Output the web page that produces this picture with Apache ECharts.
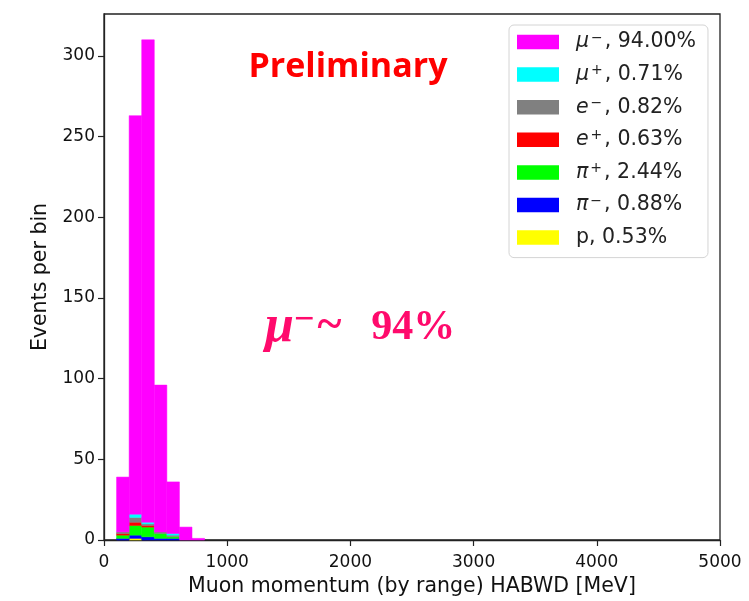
<!DOCTYPE html>
<html>
<head>
<meta charset="utf-8">
<script src="https://cdn.jsdelivr.net/npm/echarts@6/dist/echarts.min.js"></script>
<style>
  html, body { margin: 0; padding: 0; background: #fff; }
  #chart { width: 749px; height: 601px; }
</style>
</head>
<body>
<div id="chart"></div>
<script>
// Histogram binning: equal bins over the momentum range
const X_MIN = 0;
const X_MAX = 5000;
const N_BINS = 49;
const Y_MAX = 326;

// Populated bins (index into the 49 equal-width bins)
const binIndex = [1, 2, 3, 4, 5, 6, 7];

// Events per bin for each species
const countsP       = [0, 1, 0, 0, 0, 0, 0];
const countsPiMinus = [1, 2, 2, 1, 1, 0, 0];
const countsPiPlus  = [2, 6, 6, 3, 1, 0, 0];
const countsEPlus   = [1, 2, 1, 0, 0, 0, 0];
const countsEMinus  = [1, 3, 1, 1, 1, 0, 0];
const countsMuPlus  = [0, 2, 1, 0, 1, 0, 0];
const countsMuMinus = [34, 247, 299, 91, 32, 8, 1];

// Stack order, bottom first
const speciesKeys   = ['p', 'pi-', 'pi+', 'e+', 'e-', 'mu+', 'mu-'];
const speciesCounts = [countsP, countsPiMinus, countsPiPlus, countsEPlus, countsEMinus, countsMuPlus, countsMuMinus];
const speciesColors = ['#ffff00', '#0000ff', '#00ff00', '#ff0000', '#808080', '#00ffff', '#ff00ff'];
const speciesSymbol = ['p', 'π', 'π', 'e', 'e', 'μ', 'μ'];
const speciesCharge = ['', '−', '+', '+', '−', '+', '−'];
const speciesShare  = ['0.53%', '0.88%', '2.44%', '0.63%', '0.82%', '0.71%', '94.00%'];

// Legend lists the top of the stack first
const legendOrder = ['mu-', 'mu+', 'e-', 'e+', 'pi+', 'pi-', 'p'];

const xTicks = [0, 1000, 2000, 3000, 4000, 5000];
const yTicks = [0, 50, 100, 150, 200, 250, 300];

const binWidth = (X_MAX - X_MIN) / N_BINS;
const baseFont = 'DejaVu Sans';

// Build stacked rectangles: [x0, x1, yBottom, yTop]
const cumulative = binIndex.map(() => 0);
const series = speciesKeys.map((key, s) => {
  const data = binIndex.map((b, i) => {
    const y0 = cumulative[i];
    const y1 = y0 + speciesCounts[s][i];
    cumulative[i] = y1;
    return [X_MIN + b * binWidth, X_MIN + (b + 1) * binWidth, y0, y1];
  });
  return {
    name: key,
    type: 'custom',
    itemStyle: { color: speciesColors[s] },
    encode: { x: [0, 1], y: [2, 3] },
    data: data,
    renderItem: function (params, api) {
      if (api.value(3) <= api.value(2)) return null;
      const lo = api.coord([api.value(0), api.value(2)]);
      const hi = api.coord([api.value(1), api.value(3)]);
      const color = api.visual('color');
      return {
        type: 'rect',
        shape: { x: lo[0], y: hi[1], width: hi[0] - lo[0], height: lo[1] - hi[1] },
        style: { fill: color, stroke: color, lineWidth: 0.5 }
      };
    }
  };
});

function legendLabel(name) {
  const s = speciesKeys.indexOf(name);
  if (!speciesCharge[s]) return '{t|' + speciesSymbol[s] + ', ' + speciesShare[s] + '}';
  return '{m|' + speciesSymbol[s] + '}{s|' + speciesCharge[s] + '}{t|, ' + speciesShare[s] + '}';
}

const chart = echarts.init(document.getElementById('chart'), null, { renderer: 'canvas' });

const accent = '#ff0a6c';

chart.setOption({
  animation: false,
  backgroundColor: '#ffffff',
  grid: {
    left: 104, right: 29, top: 14, bottom: 61,
    outerBoundsMode: 'none', containLabel: false,
    show: true, borderColor: '#222', borderWidth: 1.3, backgroundColor: 'transparent'
  },
  xAxis: {
    type: 'value',
    min: X_MIN, max: X_MAX, interval: 1000,
    name: 'Muon momentum (by range) HABWD [MeV]',
    nameLocation: 'middle', nameGap: 28,
    nameTextStyle: { fontFamily: baseFont, fontSize: 20.5, color: '#111' },
    axisLine: { show: true, onZero: false, lineStyle: { color: '#222', width: 1.3 } },
    axisTick: { show: true, inside: false, length: 6, customValues: xTicks, lineStyle: { color: '#222', width: 1.2 } },
    axisLabel: {
      fontFamily: baseFont, fontSize: 17, color: '#111', margin: 14,
      customValues: xTicks, formatter: (v) => String(v)
    },
    splitLine: { show: false }
  },
  yAxis: {
    type: 'value',
    min: 0, max: Y_MAX,
    name: 'Events per bin',
    nameLocation: 'middle', nameGap: 52, nameRotate: 90,
    nameTextStyle: { fontFamily: baseFont, fontSize: 20.5, color: '#111' },
    axisLine: { show: true, onZero: false, lineStyle: { color: '#222', width: 1.3 } },
    axisTick: { show: true, inside: false, length: 6, customValues: yTicks, lineStyle: { color: '#222', width: 1.2 } },
    axisLabel: {
      fontFamily: baseFont, fontSize: 17, color: '#111', margin: 9,
      customValues: yTicks, formatter: (v) => String(v)
    },
    splitLine: { show: false }
  },
  legend: {
    orient: 'vertical',
    left: 509, top: 25,
    data: legendOrder,
    icon: 'rect',
    itemWidth: 42, itemHeight: 14.5,
    itemGap: 10.6,
    padding: [6, 12, 9, 8],
    borderColor: '#d4d4d4', borderWidth: 1, borderRadius: 5,
    backgroundColor: 'rgba(255,255,255,0.85)',
    selectedMode: false,
    formatter: legendLabel,
    textStyle: {
      fontFamily: baseFont, fontSize: 20.5, color: '#222', lineHeight: 22,
      padding: [0, 0, 0, 12],
      rich: {
        m: { fontFamily: baseFont, fontStyle: 'italic', fontSize: 20.5, color: '#222', lineHeight: 22 },
        s: { fontFamily: baseFont, fontSize: 14, color: '#222', verticalAlign: 'top', lineHeight: 22, padding: [0, 2, 0, 2] },
        t: { fontFamily: baseFont, fontSize: 20.5, color: '#222', lineHeight: 22 }
      }
    }
  },
  graphic: [
    {
      type: 'text',
      x: 348, y: 67,
      style: {
        text: 'Preliminary',
        fill: '#ff0000',
        font: 'bold 34px "Open Sans"',
        align: 'center', verticalAlign: 'middle'
      }
    },
    {
      type: 'text',
      x: 265, y: 328,
      style: {
        text: '{m|μ}{s|−}{t|~}{n|94%}',
        fill: accent,
        align: 'left', verticalAlign: 'middle',
        rich: {
          m: { fontFamily: 'Liberation Serif', fontStyle: 'italic', fontWeight: 'bold', fontSize: 52, fill: accent, lineHeight: 50 },
          s: { fontFamily: 'Liberation Serif', fontWeight: 'bold', fontSize: 36, fill: accent, verticalAlign: 'top', lineHeight: 50, padding: [0, 3, 0, 0] },
          t: { fontFamily: 'Liberation Serif', fontWeight: 'bold', fontSize: 46, fill: accent, lineHeight: 50, padding: [0, 0, 2, 0] },
          n: { fontFamily: 'Liberation Serif', fontWeight: 'bold', fontSize: 42, fill: accent, lineHeight: 50, padding: [0, 0, 0, 30] }
        }
      }
    }
  ],
  series: series
});
</script>
</body>
</html>
